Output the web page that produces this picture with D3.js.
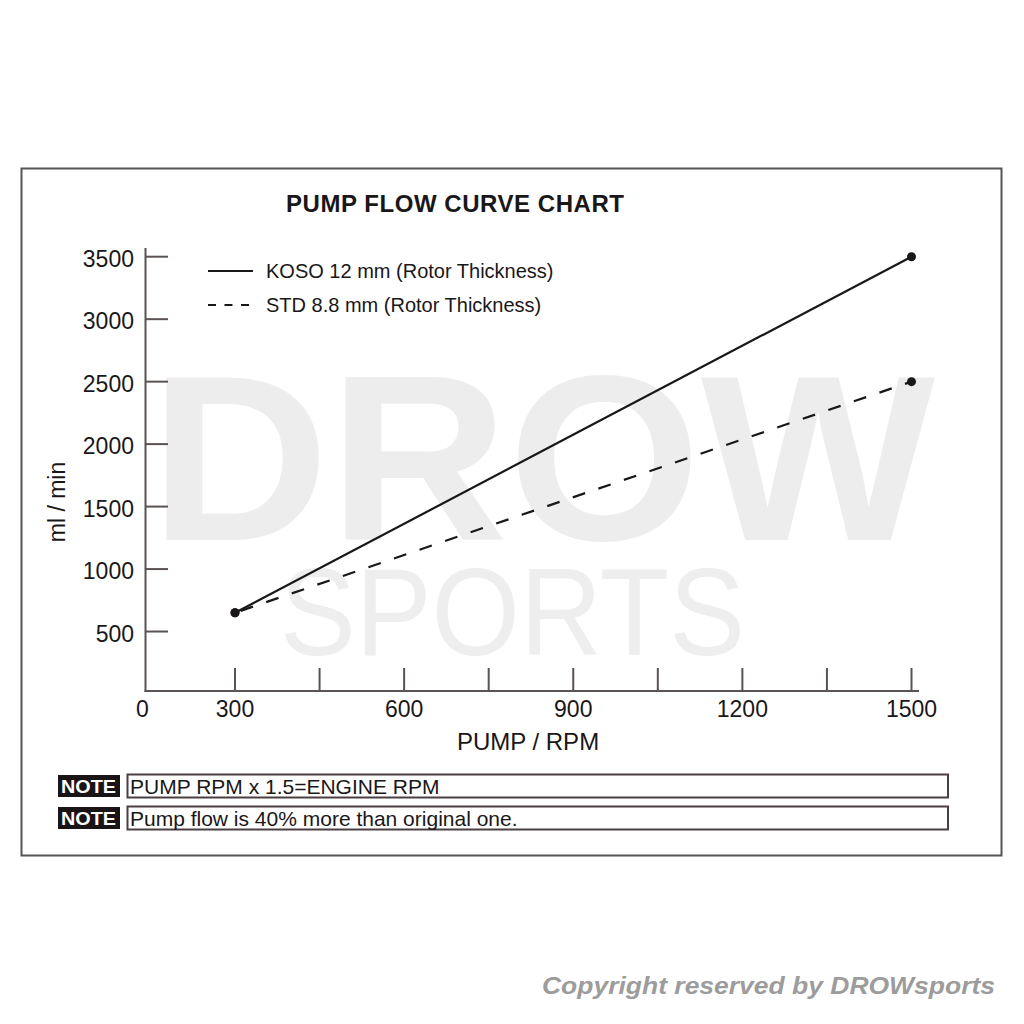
<!DOCTYPE html>
<html>
<head>
<meta charset="utf-8">
<script src="https://cdn.jsdelivr.net/npm/d3@7"></script>
<style>
  html, body { margin: 0; padding: 0; background: #fff; }
  svg { display: block; }
  text { font-family: "Liberation Sans", Arial, Helvetica, sans-serif; }
</style>
</head>
<body>
<svg id="chart" width="1024" height="1024"></svg>
<script>
// ---- data ----
const rpm = [300, 1500];
const kosoFlow = [650, 3500];
const stdFlow = [650, 2500];
const seriesNames = ["KOSO 12 mm (Rotor Thickness)", "STD 8.8 mm (Rotor Thickness)"];
const yTicks = [500, 1000, 1500, 2000, 2500, 3000, 3500];
const xTickMarks = [300, 450, 600, 750, 900, 1050, 1200, 1350, 1500];
const xTickLabels = [0, 300, 600, 900, 1200, 1500];
const notes = ["PUMP RPM x 1.5=ENGINE RPM", "Pump flow is 40% more than original one."];
const titleText = "PUMP FLOW CURVE CHART";

const svg = d3.select("#chart");
const axisColor = "#5b5253";
const ink = "#1a1718";

// scales (x axis is broken between 0 and 300)
const x = d3.scaleLinear().domain([0, 300, 1500]).range([145.5, 235, 911.5]);
const y = d3.scaleLinear().domain([0, 3500]).range([694, 256.7]);
const axisY = 691, axisTop = 248, axisRight = 919;

// watermark (one text element, two lines)
const wm = svg.append("text").attr("fill", "#ededed");
wm.append("tspan").attr("x", 150).attr("y", 540).attr("textLength", 785).attr("lengthAdjust", "spacingAndGlyphs")
  .attr("font-size", 236).attr("font-weight", "bold").text("DROW");
wm.append("tspan").attr("x", 280).attr("y", 655).attr("textLength", 465).attr("lengthAdjust", "spacingAndGlyphs")
  .attr("font-size", 125).attr("font-weight", "normal").attr("fill", "#eeeeee").text("SPORTS");

// frame
svg.append("rect").attr("x", 21.5).attr("y", 168.5).attr("width", 980).attr("height", 687)
  .attr("fill", "none").attr("stroke", "#555").attr("stroke-width", 2);

// title
svg.append("text").attr("x", 455).attr("y", 212).attr("text-anchor", "middle")
  .attr("font-size", 24).attr("font-weight", "bold").attr("fill", ink)
  .attr("textLength", 338).attr("lengthAdjust", "spacing").text(titleText);

// axes lines
svg.append("line").attr("x1", 145.5).attr("x2", 145.5).attr("y1", axisTop).attr("y2", axisY + 1)
  .attr("stroke", axisColor).attr("stroke-width", 2);
svg.append("line").attr("x1", 144.5).attr("x2", axisRight).attr("y1", axisY).attr("y2", axisY)
  .attr("stroke", axisColor).attr("stroke-width", 2);

// y ticks & labels
const yg = svg.append("g");
yg.selectAll("line").data(yTicks).join("line")
  .attr("x1", 145.5).attr("x2", 168).attr("y1", d => y(d)).attr("y2", d => y(d))
  .attr("stroke", axisColor).attr("stroke-width", 2);
yg.selectAll("text").data(yTicks).join("text")
  .attr("x", 134).attr("y", d => y(d) + 2).attr("dy", "0.35em").attr("text-anchor", "end")
  .attr("font-size", 23).attr("fill", ink).text(d => d);

// x ticks & labels
const xg = svg.append("g");
xg.selectAll("line").data(xTickMarks).join("line")
  .attr("x1", d => x(d)).attr("x2", d => x(d)).attr("y1", axisY).attr("y2", axisY - 23)
  .attr("stroke", axisColor).attr("stroke-width", 2);
xg.selectAll("text").data(xTickLabels).join("text")
  .attr("x", d => x(d) + (d === 0 ? -3 : 0)).attr("y", 717).attr("text-anchor", "middle")
  .attr("font-size", 23).attr("fill", ink).text(d => d);

// axis titles
svg.append("text").attr("x", 528).attr("y", 750).attr("text-anchor", "middle")
  .attr("font-size", 24).attr("fill", ink).text("PUMP / RPM");
svg.append("text").attr("transform", "translate(65,502) rotate(-90)").attr("text-anchor", "middle")
  .attr("font-size", 23).attr("fill", ink).text("ml / min");

// series
const line = d3.line().x(d => x(d[0])).y(d => y(d[1]));
const kosoPts = rpm.map((r, i) => [r, kosoFlow[i]]);
const stdPts = rpm.map((r, i) => [r, stdFlow[i]]);
svg.append("path").attr("d", line(stdPts)).attr("fill", "none").attr("stroke", ink)
  .attr("stroke-width", 2.2).attr("stroke-dasharray", "13,14").attr("stroke-dashoffset", -6);
svg.append("path").attr("d", line(kosoPts)).attr("fill", "none").attr("stroke", ink).attr("stroke-width", 2.2);
svg.append("g").selectAll("circle").data(kosoPts.concat(stdPts)).join("circle")
  .attr("cx", d => x(d[0])).attr("cy", d => y(d[1])).attr("r", 4.5).attr("fill", ink);

// legend
const leg = svg.append("g");
leg.append("line").attr("x1", 208).attr("x2", 253).attr("y1", 271).attr("y2", 271)
  .attr("stroke", ink).attr("stroke-width", 2);
leg.append("line").attr("x1", 208).attr("x2", 253).attr("y1", 305).attr("y2", 305)
  .attr("stroke", ink).attr("stroke-width", 2).attr("stroke-dasharray", "8,8.5");
leg.selectAll("text").data(seriesNames).join("text")
  .attr("x", 266).attr("y", (d, i) => 278 + i * 34).attr("font-size", 20).attr("fill", ink).text(d => d);

// notes
const ng = svg.append("g");
notes.forEach((t, i) => {
  const top = 775 + i * 32;
  ng.append("rect").attr("x", 58).attr("y", top).attr("width", 62).attr("height", 22).attr("fill", "#1a1416");
  ng.append("text").attr("x", 61).attr("y", top + 18).attr("font-size", 18).attr("font-weight", "bold")
    .attr("fill", "#fff").attr("textLength", 55).attr("lengthAdjust", "spacingAndGlyphs").text("NOTE");
  ng.append("rect").attr("x", 127.5).attr("y", top - 0.5).attr("width", 820.5).attr("height", 23)
    .attr("fill", "none").attr("stroke", "#4a3f42").attr("stroke-width", 2);
  ng.append("text").attr("x", 130).attr("y", top + 18.5).attr("font-size", 21).attr("fill", ink).text(t);
});

// copyright
svg.append("text").attr("x", 542).attr("y", 994).attr("font-size", 23).attr("font-weight", "bold")
  .attr("font-style", "italic").attr("fill", "#9c9c9c")
  .attr("textLength", 453).attr("lengthAdjust", "spacingAndGlyphs").text("Copyright reserved by DROWsports");
</script>
</body>
</html>
